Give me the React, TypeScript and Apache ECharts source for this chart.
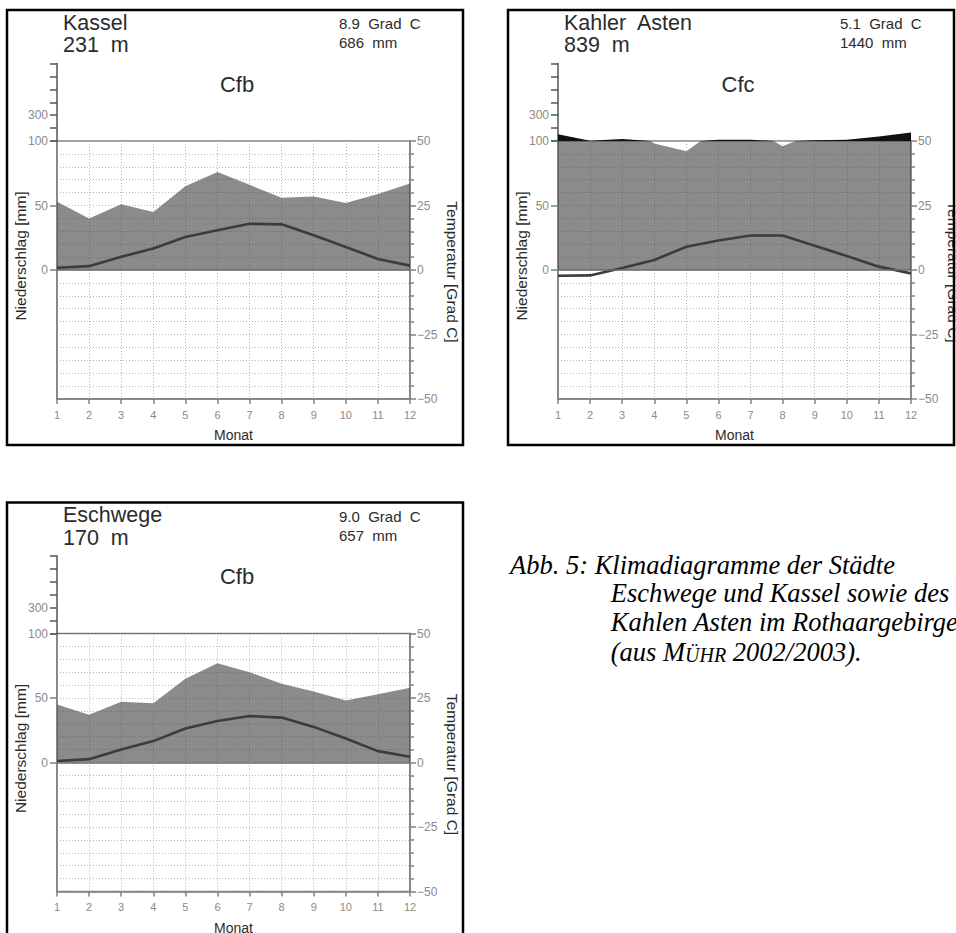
import React, { useEffect, useRef } from 'react';
import * as echarts from 'echarts';

// ---------------- data ----------------
const months = ['1', '2', '3', '4', '5', '6', '7', '8', '9', '10', '11', '12'];

const stationNames = ['Kassel', 'Kahler  Asten', 'Eschwege'];
const elevations = ['231  m', '839  m', '170  m'];
const meanTemps = ['8.9  Grad  C', '5.1  Grad  C', '9.0  Grad  C'];
const annualPrecip = ['686  mm', '1440  mm', '657  mm'];
const climateClasses = ['Cfb', 'Cfc', 'Cfb'];

// precipitation [mm]
const kasselPrecip = [53, 40, 51, 45, 65, 76, 66, 56, 57, 52, 59, 67];
const astenPrecip = [152, 101, 116, 98, 92, 110, 110, 96, 106, 110, 135, 165];
const eschwegePrecip = [45, 37, 47, 46, 65, 77, 70, 61, 55, 48, 53, 58];

// temperature [°C]
const kasselTemp = [0.9, 1.5, 5.1, 8.3, 12.8, 15.4, 17.9, 17.7, 13.5, 8.9, 4.3, 1.7];
const astenTemp = [-2.2, -2.1, 0.8, 3.9, 9.0, 11.4, 13.4, 13.4, 9.4, 5.4, 1.3, -1.3];
const eschwegeTemp = [0.6, 1.3, 5.0, 8.3, 13.2, 16.1, 18.0, 17.4, 13.8, 9.3, 4.4, 2.2];

// axis tick labels
const precipLabels = [0, 50, 100];
const upperPrecipLabels = [300];

const axisTitles = { precip: 'Niederschlag [mm]', temp: 'Temperatur [Grad C]', month: 'Monat' };

const captionLines = [
  'Abb. 5: Klimadiagramme der Städte',
  'Eschwege und Kassel sowie des',
  'Kahlen Asten im Rothaargebirge',
];
const captionSource = ['(aus M', 'ÜHR', ' 2002/2003).'];

// ---------------- layout / style ----------------
const FF = '"Liberation Sans", Arial, sans-serif';
const SERIF = '"Liberation Serif", "Times New Roman", serif';
const AXIS = '#808080';
const LABEL = '#8a8a8a';
const GRIDLINE = '#b8b8b8';
const TEXT = '#2b2b2b';

const panels = [
  { ox: 7, oy: 10, w: 456, precip: kasselPrecip, temp: kasselTemp },
  { ox: 508, oy: 10, w: 446, precip: astenPrecip, temp: astenTemp },
  { ox: 7, oy: 502.5, w: 456, precip: eschwegePrecip, temp: eschwegeTemp },
];
const PANEL_H = 435;
const PLOT_W = 353;

function buildOption() {
  const grid: any[] = [];
  const xAxis: any[] = [];
  const yAxis: any[] = [];
  const series: any[] = [];
  const elements: any[] = [];

  panels.forEach((p, i) => {
    const left = p.ox + 50;
    grid.push({
      left,
      top: p.oy + 131,
      width: PLOT_W,
      height: 258,
      show: true,
      borderColor: AXIS,
      borderWidth: 1.5,
      containLabel: false,
    });
    grid.push({
      left,
      top: p.oy + 53.5,
      width: PLOT_W,
      height: 77.5,
      show: false,
      containLabel: false,
    });

    xAxis.push({
      type: 'category',
      gridIndex: 2 * i,
      data: months,
      boundaryGap: false,
      position: 'bottom',
      axisLine: { onZero: false, lineStyle: { color: AXIS, width: 1.5 } },
      axisTick: { length: 5, lineStyle: { color: AXIS, width: 1.5 } },
      axisLabel: { color: LABEL, fontSize: 11, margin: 10, fontFamily: FF },
      splitLine: { show: true, lineStyle: { color: GRIDLINE, type: [1, 2], width: 1 } },
    });
    xAxis.push({
      type: 'category',
      gridIndex: 2 * i + 1,
      data: months,
      boundaryGap: false,
      show: false,
    });

    // main precipitation axis (left)
    yAxis.push({
      type: 'value',
      gridIndex: 2 * i,
      position: 'left',
      min: -100,
      max: 100,
      interval: 50,
      axisLine: { show: true, lineStyle: { color: AXIS, width: 1.5 } },
      axisTick: { show: true, length: 7, customValues: precipLabels, lineStyle: { color: AXIS, width: 1.5 } },
      axisLabel: {
        color: LABEL,
        fontSize: 12,
        margin: 9,
        fontFamily: FF,
        customValues: precipLabels,
        formatter: (v: number) => (precipLabels.indexOf(v) >= 0 ? String(v) : ''),
      },
      splitLine: { show: false },
    });
    // temperature axis (right)
    yAxis.push({
      type: 'value',
      gridIndex: 2 * i,
      position: 'right',
      min: -50,
      max: 50,
      interval: 25,
      axisLine: { show: true, lineStyle: { color: AXIS, width: 1.5 } },
      axisTick: { show: true, length: 6, lineStyle: { color: AXIS, width: 1.5 } },
      minorTick: { show: true, splitNumber: 5, length: 4, lineStyle: { color: AXIS, width: 1.5 } },
      axisLabel: {
        color: LABEL,
        fontSize: 12,
        margin: 7,
        fontFamily: FF,
        formatter: (v: number) => (v < 0 ? '\u2212' + Math.abs(v) : String(v)),
      },
      splitLine: { show: true, lineStyle: { color: GRIDLINE, type: [1, 2], width: 1 } },
      minorSplitLine: { show: true, lineStyle: { color: GRIDLINE, type: [1, 2], width: 1 } },
    });
    // upper (compressed) precipitation axis
    yAxis.push({
      type: 'value',
      gridIndex: 2 * i + 1,
      position: 'left',
      min: 100,
      max: 700,
      interval: 100,
      axisLine: { show: true, lineStyle: { color: '#555', width: 1.5 } },
      axisTick: { show: true, length: 7, lineStyle: { color: '#555', width: 1.5 } },
      axisLabel: {
        color: LABEL,
        fontSize: 12,
        margin: 9,
        fontFamily: FF,
        formatter: (v: number) => (upperPrecipLabels.indexOf(v) >= 0 ? String(v) : ''),
      },
      splitLine: { show: false },
    });

    series.push({
      type: 'line',
      xAxisIndex: 2 * i,
      yAxisIndex: 3 * i,
      data: p.precip,
      symbol: 'none',
      clip: true,
      lineStyle: { width: 0.01, opacity: 0 },
      areaStyle: { color: 'rgba(68,68,68,0.62)', opacity: 1 },
      markLine: {
        silent: true,
        symbol: 'none',
        label: { show: false },
        lineStyle: { color: '#6a6a6a', width: 1.5, type: 'solid' },
        data: [{ yAxis: 0 }],
      },
      z: 2,
    });
    series.push({
      type: 'line',
      xAxisIndex: 2 * i + 1,
      yAxisIndex: 3 * i + 2,
      data: p.precip,
      symbol: 'none',
      clip: true,
      lineStyle: { width: 0.01, opacity: 0 },
      areaStyle: { color: '#111', origin: 'start', opacity: 1 },
      z: 2,
    });
    series.push({
      type: 'line',
      xAxisIndex: 2 * i,
      yAxisIndex: 3 * i + 1,
      data: p.temp,
      symbol: 'none',
      lineStyle: { color: '#3c3c3c', width: 2.6 },
      z: 3,
    });

    // texts
    const t = (x: number, y: number, text: string, size: number, extra: any = {}) => ({
      type: 'text',
      x,
      y,
      silent: true,
      z: 50,
      ...extra,
      style: {
        text,
        fontSize: size,
        fontFamily: FF,
        fill: extra.fill || TEXT,
        align: extra.align || 'left',
        verticalAlign: 'middle',
      },
    });
    elements.push(t(p.ox + 56, p.oy + 12.5, stationNames[i], 21.5));
    elements.push(t(p.ox + 56, p.oy + 35, elevations[i], 21.5));
    elements.push(t(p.ox + 332, p.oy + 13.5, meanTemps[i], 15));
    elements.push(t(p.ox + 332, p.oy + 32.5, annualPrecip[i], 15));
    elements.push(t(p.ox + 230, p.oy + 74, climateClasses[i], 22, { align: 'center' }));
    elements.push(t(p.ox + 13, p.oy + 246, axisTitles.precip, 15.5, { align: 'center', rotation: Math.PI / 2 }));
    elements.push(t(p.ox + 445, p.oy + 262, axisTitles.temp, 15.5, { align: 'center', rotation: -Math.PI / 2 }));
    elements.push(t(left + PLOT_W / 2, p.oy + 425, axisTitles.month, 14, { align: 'center' }));

    elements.push({
      type: 'rect',
      silent: true,
      z: 100,
      shape: { x: p.ox, y: p.oy, width: p.w, height: PANEL_H },
      style: { fill: 'none', stroke: '#000', lineWidth: 2.5 },
    });
  });

  // clip overflow to the right of panel 2
  elements.push({
    type: 'rect',
    silent: true,
    z: 99,
    shape: { x: 955.3, y: 0, width: 10, height: 460 },
    style: { fill: '#fff' },
  });

  // caption
  const capX = [510, 610.7, 610.7];
  const capY = [565, 593.3, 621.6];
  captionLines.forEach((line, k) => {
    elements.push({
      type: 'text',
      x: capX[k],
      y: capY[k],
      silent: true,
      z: 50,
      style: {
        text: line,
        fontSize: 26.5,
        fontStyle: 'italic',
        fontFamily: SERIF,
        fill: '#000',
        align: 'left',
        verticalAlign: 'middle',
      },
    });
  });
  elements.push({
    type: 'text',
    x: 610.7,
    y: 650,
    silent: true,
    z: 50,
    style: {
      text: `{a|${captionSource[0]}}{b|${captionSource[1]}}{a|${captionSource[2]}}`,
      fill: '#000',
      align: 'left',
      verticalAlign: 'middle',
      rich: {
        a: { fontSize: 26.5, fontStyle: 'italic', fontFamily: SERIF, fill: '#000', verticalAlign: 'bottom', lineHeight: 30 },
        b: { fontSize: 20, fontStyle: 'italic', fontFamily: SERIF, fill: '#000', verticalAlign: 'bottom', lineHeight: 27.5 },
      },
    },
  });

  return {
    animation: false,
    backgroundColor: '#ffffff',
    grid,
    xAxis,
    yAxis,
    series,
    graphic: { elements },
  };
}

export default function App() {
  const ref = useRef<HTMLDivElement>(null);
  useEffect(() => {
    if (!ref.current) return;
    const chart = echarts.init(ref.current, undefined, { renderer: 'svg' });
    chart.setOption(buildOption() as any);
    return () => chart.dispose();
  }, []);
  return (
    <div
      ref={ref}
      style={{ position: 'fixed', left: 0, top: 0, width: 956, height: 933, background: '#fff' }}
    />
  );
}
